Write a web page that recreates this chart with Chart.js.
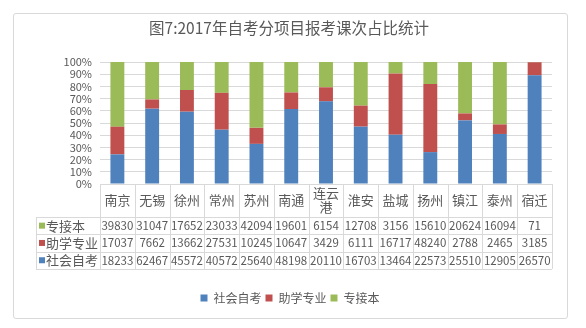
<!DOCTYPE html>
<html>
<head>
<meta charset="utf-8">
<script src="https://cdn.jsdelivr.net/npm/chart.js@4"></script>
<style>
  html, body { margin: 0; padding: 0; background: #fff; }
  #frame { position: absolute; left: 13px; top: 13px; width: 553px; height: 304px;
           border: 1px solid #d9d9d9; border-radius: 3px; }
  #chart { position: absolute; left: 0; top: 0; }
</style>
</head>
<body>
<div id="frame"></div>
<canvas id="chart" width="586" height="328"></canvas>
<script>
const cities = ['南京', '无锡', '徐州', '常州', '苏州', '南通', '连云港', '淮安', '盐城', '扬州', '镇江', '泰州', '宿迁'];
const selfExam = [18233, 62467, 45572, 40572, 25640, 48198, 20110, 16703, 13464, 22573, 25510, 12905, 26570];
const assisted = [17037, 7662, 13662, 27531, 10245, 10647, 3429, 6111, 16717, 48240, 2788, 2465, 3185];
const upgrade = [39830, 31047, 17652, 23033, 42094, 19601, 6154, 12708, 3156, 15610, 20624, 16094, 71];
const yTicks = [0, 10, 20, 30, 40, 50, 60, 70, 80, 90, 100];

const FONT = '"Noto Sans CJK SC", "Microsoft YaHei", sans-serif';
const TEXT = '#595959';
const LINE = '#d9d9d9';

const totals = cities.map((c, i) => selfExam[i] + assisted[i] + upgrade[i]);
const pct = arr => arr.map((v, i) => v / totals[i] * 100);

const series = [
  { label: '社会自考', raw: selfExam, color: '#4f81bd' },
  { label: '助学专业', raw: assisted, color: '#c0504d' },
  { label: '专接本', raw: upgrade, color: '#9bbb59' }
];

// title, data table under the axis
const extras = {
  id: 'extras',
  afterDraw(chart) {
    const ctx = chart.ctx;
    const area = chart.chartArea;
    const colW = (area.right - area.left) / cities.length;
    const headBottom = area.bottom + 33;
    const rowH = 17.3;
    const tableBottom = headBottom + rowH * 3;
    const tableLeft = 36;

    ctx.save();
    ctx.fillStyle = TEXT;
    ctx.textAlign = 'center';
    ctx.textBaseline = 'middle';
    ctx.font = '15.5px ' + FONT;
    ctx.fillText('图7:2017年自考分项目报考课次占比统计', 289, 28);

    ctx.strokeStyle = LINE;
    ctx.lineWidth = 1;
    ctx.beginPath();
    for (let i = 0; i <= cities.length; i++) {
      const x = Math.round(area.left + i * colW) + 0.5;
      ctx.moveTo(x, area.bottom);
      ctx.lineTo(x, tableBottom);
    }
    ctx.moveTo(tableLeft + 0.5, headBottom);
    ctx.lineTo(tableLeft + 0.5, tableBottom);
    for (let r = 0; r <= 3; r++) {
      const y = Math.round(headBottom + r * rowH) + 0.5;
      ctx.moveTo(tableLeft, y);
      ctx.lineTo(area.right, y);
    }
    ctx.stroke();

    // category header
    ctx.font = '13px ' + FONT;
    cities.forEach((c, i) => {
      const cx = area.left + (i + 0.5) * colW;
      const cy = (area.bottom + headBottom) / 2;
      if (c.length > 2) {
        ctx.fillText(c.slice(0, 2), cx, cy - 7);
        ctx.fillText(c.slice(2), cx, cy + 7);
      } else {
        ctx.fillText(c, cx, cy);
      }
    });

    // value rows, top row is the last series
    const rows = series.slice().reverse();
    rows.forEach((s, r) => {
      const cy = headBottom + (r + 0.5) * rowH;
      ctx.fillStyle = s.color;
      ctx.fillRect(tableLeft + 3, cy - 3, 6, 6);
      ctx.fillStyle = TEXT;
      ctx.textAlign = 'left';
      ctx.font = '13px ' + FONT;
      ctx.fillText(s.label, tableLeft + 10, cy);
      ctx.textAlign = 'center';
      ctx.font = '11.5px ' + FONT;
      s.raw.forEach((v, i) => {
        ctx.fillText(String(v), area.left + (i + 0.5) * colW, cy);
      });
    });
    ctx.restore();
  }
};

new Chart(document.getElementById('chart'), {
  type: 'bar',
  data: {
    labels: cities,
    datasets: series.map(s => ({
      label: s.label,
      data: pct(s.raw),
      backgroundColor: s.color,
      borderWidth: 0,
      barPercentage: 0.4,
      categoryPercentage: 1
    }))
  },
  options: {
    responsive: false,
    animation: false,
    layout: { padding: { left: 28, right: 34, top: 62, bottom: 14 } },
    plugins: {
      title: { display: false },
      tooltip: { enabled: false },
      legend: {
        position: 'bottom',
        labels: {
          boxWidth: 7,
          boxHeight: 7,
          padding: 4,
          color: TEXT,
          font: { family: FONT, size: 12 }
        }
      }
    },
    scales: {
      x: {
        stacked: true,
        grid: { display: false },
        border: { display: false },
        ticks: { display: false },
        afterFit(scale) { scale.height = 104; }
      },
      y: {
        stacked: true,
        min: 0,
        max: 100,
        afterBuildTicks(scale) { scale.ticks = yTicks.map(v => ({ value: v })); },
        grid: { color: LINE, drawTicks: false },
        border: { display: false },
        ticks: {
          autoSkip: false,
          padding: 8,
          color: TEXT,
          font: { family: FONT, size: 11 },
          callback: v => v + '%'
        },
        afterFit(scale) { scale.width = 72; }
      }
    }
  },
  plugins: [extras]
});
</script>
</body>
</html>
